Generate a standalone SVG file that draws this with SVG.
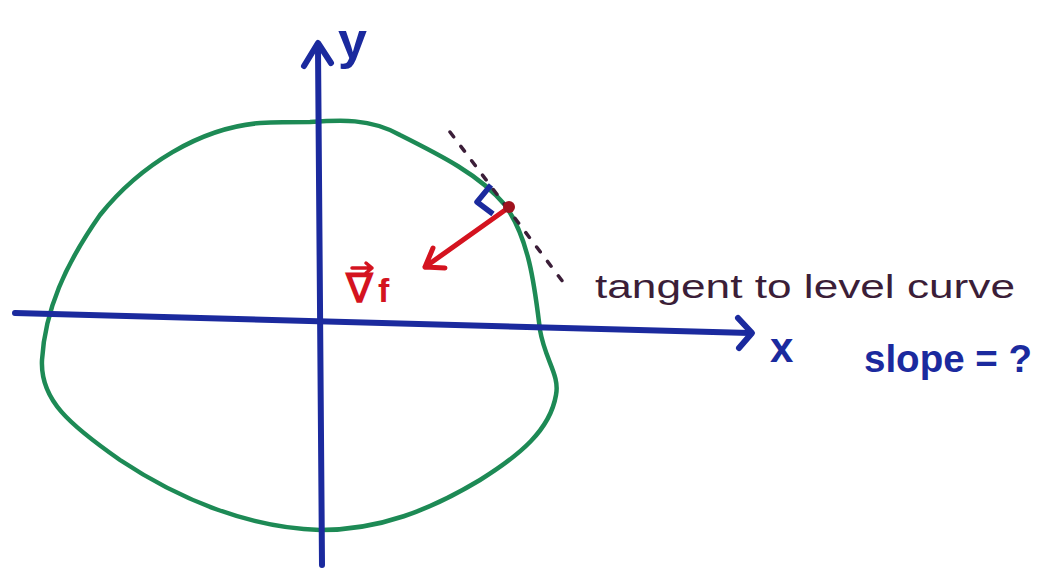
<svg xmlns="http://www.w3.org/2000/svg" width="1051" height="570" viewBox="0 0 1051 570">
<style>
.ax{fill:none;stroke:#1b2a9e;stroke-width:6;stroke-linecap:round;stroke-linejoin:round}
.lvl{fill:none;stroke:#1d8a55;stroke-width:4.5}
.tan{fill:none;stroke:#3b1e38;stroke-width:3.5;stroke-dasharray:6 12;stroke-linecap:round}
.red{fill:none;stroke:#d4131f;stroke-width:5;stroke-linecap:round;stroke-linejoin:round}
.lbl{font-family:"Liberation Sans",Arial,sans-serif}
</style>
<rect width="1051" height="570" fill="#fff"/>
<g id="level-curve">
<path class="lvl" d="M310,122 C340,120 370,118 400,135 C440,155 480,175 505,205 C530,240 535,290 540,330 C545,360 560,375 556,395 C550,430 520,455 480,480 C430,510 380,530 320,530 C250,528 180,500 120,460 C70,425 40,400 42,360 C45,310 65,265 100,215 C140,165 200,128 260,123 C280,122 295,122 310,122 Z"/>
</g>
<g id="connectors">
<path class="ax" d="M322,565 L318,48"/>
<path class="ax" d="M304,66 L318,43 L331,63"/>
<path class="ax" d="M15,313 L750,333"/>
<path class="ax" d="M738,318 L752,333 L739,348"/>
<path class="tan" d="M450,132 L566,286"/>
<path class="red" d="M508,208 L425,267 M433,248 L425,267 L445,268"/>
<path fill="none" stroke="#1b2a9e" stroke-width="5.5" stroke-linejoin="round" d="M491,185 L477,202 L493,214"/>
<circle cx="509" cy="207" r="6" fill="#a0121e"/>
</g>
<g id="labels">
<text class="lbl" x="338" y="58" font-size="52" font-weight="bold" fill="#1b2a9e">y</text>
<text class="lbl" x="770" y="362" font-size="42" font-weight="bold" fill="#1b2a9e">x</text>
<text class="lbl" x="346" y="302" font-size="40" font-weight="bold" fill="#d4131f">∇</text>
<path fill="none" stroke="#d4131f" stroke-width="3.5" stroke-linecap="round" stroke-linejoin="round" d="M352,268 L372,268 M366,263 L372,268 L366,273"/>
<text class="lbl" x="378" y="302" font-size="34" font-weight="bold" fill="#d4131f">f</text>
<text class="lbl" x="595" y="298" font-size="34" fill="#3b1e38" textLength="420" lengthAdjust="spacingAndGlyphs">tangent to level curve</text>
<text class="lbl" x="864" y="372" font-size="38" font-weight="bold" fill="#1b2a9e" textLength="168" lengthAdjust="spacingAndGlyphs">slope = ?</text>
</g>
</svg>
